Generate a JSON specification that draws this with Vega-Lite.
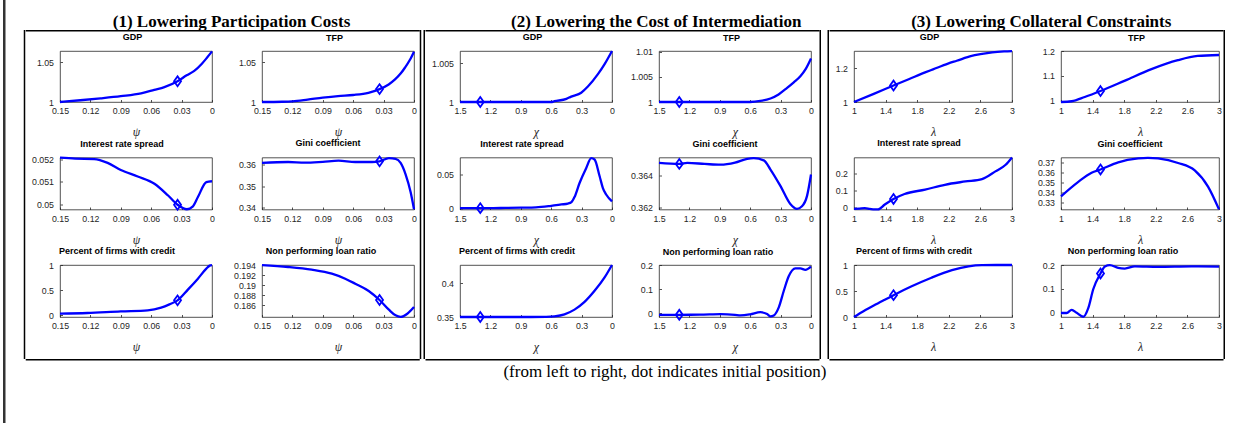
{
"$schema": "https://vega.github.io/schema/vega-lite/v6.json",
"background": "white",
"padding": {"left": 3, "top": 0, "right": 0, "bottom": 0},
"config": {
  "view": {"stroke": "#262626", "strokeWidth": 0.8},
  "axis": {"domain": false, "grid": false, "labelFont": "Liberation Sans", "labelFontSize": 8.8, "labelColor": "#262626", "tickColor": "#262626", "tickSize": -2.5, "tickWidth": 0.8, "labelFlush": false, "labelOverlap": false, "format": "~g", "titleFont": "Liberation Serif", "titleFontSize": 12, "titleFontStyle": "italic", "titleFontWeight": "normal", "titleColor": "#262626", "titlePadding": 11.5, "minExtent": 0},
  "axisX": {"labelPadding": 7, "minExtent": 0},
  "axisY": {"labelPadding": 9, "minExtent": 0},
  "title": {"font": "Liberation Sans", "fontSize": 9, "fontWeight": "bold", "color": "#000", "offset": 4.5, "baseline": "alphabetic", "anchor": "middle"}
},
"datasets": {
  "p1": [
    {"m":"GDP","x":0.15,"y":1.0},{"m":"GDP","x":0.13,"y":1.0022},{"m":"GDP","x":0.11,"y":1.0046},{"m":"GDP","x":0.09,"y":1.0073},{"m":"GDP","x":0.07,"y":1.0108},{"m":"GDP","x":0.057,"y":1.0152},{"m":"GDP","x":0.047,"y":1.0187},{"m":"GDP","x":0.034,"y":1.026,"i":1},{"m":"GDP","x":0.025,"y":1.0335},{"m":"GDP","x":0.0175,"y":1.039},{"m":"GDP","x":0.01,"y":1.048},{"m":"GDP","x":0.005,"y":1.0555},{"m":"GDP","x":0,"y":1.0635},
    {"m":"TFP","x":0.15,"y":1.0},{"m":"TFP","x":0.13,"y":1.0003},{"m":"TFP","x":0.12,"y":1.0008},{"m":"TFP","x":0.105,"y":1.003},{"m":"TFP","x":0.09,"y":1.0055},{"m":"TFP","x":0.075,"y":1.0075},{"m":"TFP","x":0.06,"y":1.0088},{"m":"TFP","x":0.045,"y":1.0115},{"m":"TFP","x":0.034,"y":1.0162,"i":1},{"m":"TFP","x":0.025,"y":1.022},{"m":"TFP","x":0.019,"y":1.028},{"m":"TFP","x":0.013,"y":1.036},{"m":"TFP","x":0.009,"y":1.043},{"m":"TFP","x":0.004,"y":1.053},{"m":"TFP","x":0,"y":1.0632},
    {"m":"IRS","x":0.15,"y":0.05206},{"m":"IRS","x":0.135,"y":0.05202},{"m":"IRS","x":0.1163,"y":0.052},{"m":"IRS","x":0.103,"y":0.05183},{"m":"IRS","x":0.09,"y":0.05152},{"m":"IRS","x":0.0733,"y":0.05123},{"m":"IRS","x":0.0568,"y":0.05091},{"m":"IRS","x":0.0436,"y":0.0504},{"m":"IRS","x":0.034,"y":0.04998,"i":1},{"m":"IRS","x":0.0248,"y":0.04978},{"m":"IRS","x":0.0188,"y":0.04991},{"m":"IRS","x":0.0139,"y":0.05032},{"m":"IRS","x":0.0056,"y":0.05098},{"m":"IRS","x":0,"y":0.05102},
    {"m":"Gini","x":0.15,"y":0.36076},{"m":"Gini","x":0.1242,"y":0.36121},{"m":"Gini","x":0.1076,"y":0.3609},{"m":"Gini","x":0.09,"y":0.3613},{"m":"Gini","x":0.0745,"y":0.3618},{"m":"Gini","x":0.058,"y":0.3612},{"m":"Gini","x":0.0414,"y":0.3612},{"m":"Gini","x":0.034,"y":0.3615,"i":1},{"m":"Gini","x":0.0248,"y":0.363},{"m":"Gini","x":0.0182,"y":0.3627},{"m":"Gini","x":0.0132,"y":0.3608},{"m":"Gini","x":0.0083,"y":0.3555},{"m":"Gini","x":0.0033,"y":0.3471},{"m":"Gini","x":0,"y":0.3392},
    {"m":"PFC","x":0.15,"y":0.027},{"m":"PFC","x":0.123,"y":0.04},{"m":"PFC","x":0.09,"y":0.073},{"m":"PFC","x":0.0634,"y":0.093},{"m":"PFC","x":0.0502,"y":0.147},{"m":"PFC","x":0.042,"y":0.213},{"m":"PFC","x":0.034,"y":0.293,"i":1},{"m":"PFC","x":0.0238,"y":0.507},{"m":"PFC","x":0.0139,"y":0.727},{"m":"PFC","x":0.0056,"y":0.927},{"m":"PFC","x":0.0023,"y":0.987},{"m":"PFC","x":0,"y":0.998},
    {"m":"NPL","x":0.15,"y":0.19405},{"m":"NPL","x":0.1242,"y":0.19367},{"m":"NPL","x":0.101,"y":0.19313},{"m":"NPL","x":0.0811,"y":0.19233},{"m":"NPL","x":0.0679,"y":0.19133},{"m":"NPL","x":0.058,"y":0.19033},{"m":"NPL","x":0.0447,"y":0.18887},{"m":"NPL","x":0.034,"y":0.18707,"i":1},{"m":"NPL","x":0.0248,"y":0.18513},{"m":"NPL","x":0.0182,"y":0.184},{"m":"NPL","x":0.0132,"y":0.1837},{"m":"NPL","x":0.0066,"y":0.18433},{"m":"NPL","x":0,"y":0.18567}
  ],
  "p2": [
    {"m":"GDP","x":1.5,"y":1.0},{"m":"GDP","x":1.3,"y":1.0,"i":1},{"m":"GDP","x":1.0,"y":1.0},{"m":"GDP","x":0.8,"y":1.0},{"m":"GDP","x":0.6,"y":1.0},{"m":"GDP","x":0.568,"y":1.0001},{"m":"GDP","x":0.45,"y":1.0004},{"m":"GDP","x":0.403,"y":1.0007},{"m":"GDP","x":0.304,"y":1.0012},{"m":"GDP","x":0.238,"y":1.002},{"m":"GDP","x":0.139,"y":1.0036},{"m":"GDP","x":0.073,"y":1.0049},{"m":"GDP","x":0,"y":1.0066},
    {"m":"TFP","x":1.5,"y":1.0},{"m":"TFP","x":1.3,"y":1.0,"i":1},{"m":"TFP","x":1.0,"y":1.0},{"m":"TFP","x":0.8,"y":1.0},{"m":"TFP","x":0.6,"y":1.0},{"m":"TFP","x":0.5,"y":1.0002},{"m":"TFP","x":0.4,"y":1.0007},{"m":"TFP","x":0.32,"y":1.0015},{"m":"TFP","x":0.236,"y":1.0028},{"m":"TFP","x":0.17,"y":1.0039},{"m":"TFP","x":0.105,"y":1.0051},{"m":"TFP","x":0.05,"y":1.0066},{"m":"TFP","x":0,"y":1.0086},
    {"m":"IRS","x":1.5,"y":0},{"m":"IRS","x":1.3,"y":0,"i":1},{"m":"IRS","x":1.1,"y":0.0002},{"m":"IRS","x":0.9,"y":0.0007},{"m":"IRS","x":0.75,"y":0.0012},{"m":"IRS","x":0.6,"y":0.0035},{"m":"IRS","x":0.5,"y":0.0055},{"m":"IRS","x":0.436,"y":0.0068},{"m":"IRS","x":0.4,"y":0.009},{"m":"IRS","x":0.37,"y":0.0165},{"m":"IRS","x":0.32,"y":0.0375},{"m":"IRS","x":0.254,"y":0.06},{"m":"IRS","x":0.205,"y":0.0745},{"m":"IRS","x":0.172,"y":0.0725},{"m":"IRS","x":0.122,"y":0.0475},{"m":"IRS","x":0.09,"y":0.03},{"m":"IRS","x":0.056,"y":0.02},{"m":"IRS","x":0,"y":0.01},
    {"m":"Gini","x":1.5,"y":0.36476},{"m":"Gini","x":1.3,"y":0.3647,"i":1},{"m":"Gini","x":1.221,"y":0.36476},{"m":"Gini","x":1.05,"y":0.3647},{"m":"Gini","x":0.893,"y":0.36465},{"m":"Gini","x":0.75,"y":0.36478},{"m":"Gini","x":0.63,"y":0.36502},{"m":"Gini","x":0.565,"y":0.36506},{"m":"Gini","x":0.466,"y":0.36492},{"m":"Gini","x":0.4,"y":0.36435},{"m":"Gini","x":0.302,"y":0.36333},{"m":"Gini","x":0.204,"y":0.3622},{"m":"Gini","x":0.138,"y":0.3619},{"m":"Gini","x":0.089,"y":0.36206},{"m":"Gini","x":0.039,"y":0.36271},{"m":"Gini","x":0,"y":0.36404},
    {"m":"PFC","x":1.5,"y":0.35},{"m":"PFC","x":1.3,"y":0.35,"i":1},{"m":"PFC","x":1.0,"y":0.35},{"m":"PFC","x":0.8,"y":0.35},{"m":"PFC","x":0.65,"y":0.3502},{"m":"PFC","x":0.568,"y":0.351},{"m":"PFC","x":0.469,"y":0.354},{"m":"PFC","x":0.37,"y":0.361},{"m":"PFC","x":0.271,"y":0.3725},{"m":"PFC","x":0.172,"y":0.389},{"m":"PFC","x":0.073,"y":0.409},{"m":"PFC","x":0,"y":0.4275},
    {"m":"NPL","x":1.5,"y":-0.0068},{"m":"NPL","x":1.3,"y":-0.0068,"i":1},{"m":"NPL","x":1.1,"y":-0.0065},{"m":"NPL","x":0.893,"y":-0.004},{"m":"NPL","x":0.75,"y":-0.007},{"m":"NPL","x":0.696,"y":-0.0095},{"m":"NPL","x":0.6,"y":-0.005},{"m":"NPL","x":0.499,"y":0.004},{"m":"NPL","x":0.433,"y":-0.004},{"m":"NPL","x":0.4,"y":-0.0135},{"m":"NPL","x":0.367,"y":-0.0095},{"m":"NPL","x":0.318,"y":0.024},{"m":"NPL","x":0.269,"y":0.092},{"m":"NPL","x":0.22,"y":0.153},{"m":"NPL","x":0.154,"y":0.186},{"m":"NPL","x":0.105,"y":0.186},{"m":"NPL","x":0.056,"y":0.18},{"m":"NPL","x":0,"y":0.193}
  ],
  "p3": [
    {"m":"GDP","x":1,"y":1.0},{"m":"GDP","x":1.25,"y":1.048},{"m":"GDP","x":1.5,"y":1.0968,"i":1},{"m":"GDP","x":1.7,"y":1.1354},{"m":"GDP","x":1.9,"y":1.174},{"m":"GDP","x":2.0,"y":1.192},{"m":"GDP","x":2.19,"y":1.226},{"m":"GDP","x":2.3,"y":1.2425},{"m":"GDP","x":2.49,"y":1.271},{"m":"GDP","x":2.6,"y":1.281},{"m":"GDP","x":2.75,"y":1.292},{"m":"GDP","x":2.9,"y":1.2976},{"m":"GDP","x":3,"y":1.2995},
    {"m":"TFP","x":1,"y":0.995},{"m":"TFP","x":1.135,"y":0.998},{"m":"TFP","x":1.3,"y":1.015},{"m":"TFP","x":1.5,"y":1.039,"i":1},{"m":"TFP","x":1.81,"y":1.081},{"m":"TFP","x":2.145,"y":1.127},{"m":"TFP","x":2.48,"y":1.163},{"m":"TFP","x":2.73,"y":1.18},{"m":"TFP","x":3,"y":1.184},
    {"m":"IRS","x":1,"y":-0.0057},{"m":"IRS","x":1.07,"y":-0.004},{"m":"IRS","x":1.136,"y":-0.002},{"m":"IRS","x":1.2,"y":-0.006},{"m":"IRS","x":1.26,"y":-0.009},{"m":"IRS","x":1.305,"y":-0.009},{"m":"IRS","x":1.39,"y":0.019},{"m":"IRS","x":1.5,"y":0.051,"i":1},{"m":"IRS","x":1.64,"y":0.08},{"m":"IRS","x":1.9,"y":0.105},{"m":"IRS","x":2.15,"y":0.133},{"m":"IRS","x":2.41,"y":0.152},{"m":"IRS","x":2.62,"y":0.166},{"m":"IRS","x":2.79,"y":0.21},{"m":"IRS","x":2.92,"y":0.248},{"m":"IRS","x":3,"y":0.29},
    {"m":"Gini","x":1,"y":0.336},{"m":"Gini","x":1.219,"y":0.3508},{"m":"Gini","x":1.387,"y":0.3601},{"m":"Gini","x":1.5,"y":0.3634,"i":1},{"m":"Gini","x":1.724,"y":0.3707},{"m":"Gini","x":1.977,"y":0.3746},{"m":"Gini","x":2.1,"y":0.3752},{"m":"Gini","x":2.229,"y":0.3746},{"m":"Gini","x":2.482,"y":0.37},{"m":"Gini","x":2.693,"y":0.3624},{"m":"Gini","x":2.861,"y":0.3459},{"m":"Gini","x":3,"y":0.3227},
    {"m":"PFC","x":1,"y":0},{"m":"PFC","x":1.12,"y":0.11},{"m":"PFC","x":1.25,"y":0.22},{"m":"PFC","x":1.38,"y":0.325},{"m":"PFC","x":1.5,"y":0.42,"i":1},{"m":"PFC","x":1.73,"y":0.59},{"m":"PFC","x":1.98,"y":0.755},{"m":"PFC","x":2.24,"y":0.9},{"m":"PFC","x":2.45,"y":0.975},{"m":"PFC","x":2.62,"y":0.998},{"m":"PFC","x":2.8,"y":1.0},{"m":"PFC","x":3,"y":1.0},
    {"m":"NPL","x":1,"y":-0.004},{"m":"NPL","x":1.072,"y":-0.004},{"m":"NPL","x":1.135,"y":0.0097},{"m":"NPL","x":1.198,"y":-0.003},{"m":"NPL","x":1.282,"y":-0.02},{"m":"NPL","x":1.345,"y":0.0167},{"m":"NPL","x":1.408,"y":0.097},{"m":"NPL","x":1.5,"y":0.164,"i":1},{"m":"NPL","x":1.556,"y":0.194},{"m":"NPL","x":1.619,"y":0.1995},{"m":"NPL","x":1.724,"y":0.1875},{"m":"NPL","x":1.808,"y":0.185},{"m":"NPL","x":1.935,"y":0.194},{"m":"NPL","x":2.229,"y":0.192},{"m":"NPL","x":2.65,"y":0.194},{"m":"NPL","x":3,"y":0.193}
  ]
},
"spacing": 17.75,
"center": true,
"hconcat": [
  {"data": {"values": [{}]}, "mark": {"type": "point", "size": 0, "opacity": 0}, "width": 2.5, "height": 423, "view": {"fill": "#333", "stroke": null}},
  {"spacing": 0, "vconcat": [
  {"title": {"text": "(from left to right, dot indicates initial position)", "orient": "bottom", "font": "Liberation Serif", "fontSize": 17, "fontWeight": "normal", "color": "#000", "offset": 3.5, "baseline": "top", "anchor": "middle", "dx": 40.5},
   "bounds": "flush", "spacing": 399.75,
   "hconcat": [
    {"title": {"text": "(1) Lowering Participation Costs", "font": "Liberation Serif", "fontSize": 17, "fontWeight": "bold", "color": "#000", "offset": -13.5, "dx": 9, "anchor": "middle", "baseline": "alphabetic"},
     "bounds": "flush", "spacing": 0,
     "hconcat": [
      {"data": {"values": [{}]}, "mark": {"type": "point", "size": 0, "opacity": 0}, "width": 1.5, "height": 329, "view": {"fill": "#000", "stroke": null}},
      {"bounds": "flush", "spacing": 394, "hconcat": [
      {"spacing": 0, "vconcat": [
        {"data": {"values": [{}]}, "mark": {"type": "point", "size": 0, "opacity": 0}, "width": 394, "height": 1.5, "view": {"fill": "#000", "stroke": null}},
        {"spacing": 5, "vconcat": [
        {"spacing": 4.25, "hconcat": [
        {"data": {"values": [{}]}, "mark": {"type": "point", "size": 0, "opacity": 0}, "width": 1, "height": 1, "view": {"stroke": null}},
        {"bounds": "flush", "columns": 2, "spacing": {"row": 55.5, "column": 50}, "concat": [
          {"width": 152, "height": 51, "title": {"text": "GDP", "dx": -3.5}, "data": {"name": "p1"}, "transform": [{"filter": "datum.m == 'GDP'"}],
           "layer": [
            {"mark": {"type": "line", "color": "#0000ff", "strokeWidth": 2.3, "interpolate": "monotone"},
             "encoding": {"x": {"field": "x", "type": "quantitative", "scale": {"domain": [0, 0.15], "reverse": true, "nice": false, "zero": false}, "axis": {"values": [0, 0.03, 0.06, 0.09, 0.12, 0.15], "title": "ψ"}},
                          "y": {"field": "y", "type": "quantitative", "scale": {"domain": [1, 1.064], "nice": false, "zero": false}, "axis": {"values": [1, 1.05], "title": null}}}},
            {"transform": [{"filter": "datum.i == 1"}], "mark": {"type": "point", "shape": "M0,-1.4L1,0L0,1.4L-1,0Z", "size": 49, "filled": false, "color": "#0000ff", "strokeWidth": 1.8, "opacity": 1},
             "encoding": {"x": {"field": "x", "type": "quantitative", "scale": {"domain": [0, 0.15], "reverse": true, "nice": false, "zero": false}, "axis": null},
                          "y": {"field": "y", "type": "quantitative", "scale": {"domain": [1, 1.064], "nice": false, "zero": false}, "axis": null}}}
           ], "resolve": {"axis": {"x": "independent", "y": "independent"}}},
          {"width": 152, "height": 51, "title": {"text": "TFP", "dx": -3.5}, "data": {"name": "p1"}, "transform": [{"filter": "datum.m == 'TFP'"}],
           "layer": [
            {"mark": {"type": "line", "color": "#0000ff", "strokeWidth": 2.3, "interpolate": "monotone"},
             "encoding": {"x": {"field": "x", "type": "quantitative", "scale": {"domain": [0, 0.15], "reverse": true, "nice": false, "zero": false}, "axis": {"values": [0, 0.03, 0.06, 0.09, 0.12, 0.15], "title": "ψ"}},
                          "y": {"field": "y", "type": "quantitative", "scale": {"domain": [1, 1.064], "nice": false, "zero": false}, "axis": {"values": [1, 1.05], "title": null}}}},
            {"transform": [{"filter": "datum.i == 1"}], "mark": {"type": "point", "shape": "M0,-1.4L1,0L0,1.4L-1,0Z", "size": 49, "filled": false, "color": "#0000ff", "strokeWidth": 1.8, "opacity": 1},
             "encoding": {"x": {"field": "x", "type": "quantitative", "scale": {"domain": [0, 0.15], "reverse": true, "nice": false, "zero": false}, "axis": null},
                          "y": {"field": "y", "type": "quantitative", "scale": {"domain": [1, 1.064], "nice": false, "zero": false}, "axis": null}}}
           ], "resolve": {"axis": {"x": "independent", "y": "independent"}}},
          {"width": 152, "height": 52, "title": {"text": "Interest rate spread", "dx": -14}, "data": {"name": "p1"}, "transform": [{"filter": "datum.m == 'IRS'"}],
           "layer": [
            {"mark": {"type": "line", "color": "#0000ff", "strokeWidth": 2.3, "interpolate": "monotone"},
             "encoding": {"x": {"field": "x", "type": "quantitative", "scale": {"domain": [0, 0.15], "reverse": true, "nice": false, "zero": false}, "axis": {"values": [0, 0.03, 0.06, 0.09, 0.12, 0.15], "title": "ψ"}},
                          "y": {"field": "y", "type": "quantitative", "scale": {"domain": [0.04977, 0.05207], "nice": false, "zero": false}, "axis": {"values": [0.05, 0.051, 0.052], "title": null}}}},
            {"transform": [{"filter": "datum.i == 1"}], "mark": {"type": "point", "shape": "M0,-1.4L1,0L0,1.4L-1,0Z", "size": 49, "filled": false, "color": "#0000ff", "strokeWidth": 1.8, "opacity": 1},
             "encoding": {"x": {"field": "x", "type": "quantitative", "scale": {"domain": [0, 0.15], "reverse": true, "nice": false, "zero": false}, "axis": null},
                          "y": {"field": "y", "type": "quantitative", "scale": {"domain": [0.04977, 0.05207], "nice": false, "zero": false}, "axis": null}}}
           ], "resolve": {"axis": {"x": "independent", "y": "independent"}}},
          {"width": 152, "height": 52, "title": {"text": "Gini coefficient", "dx": -10}, "data": {"name": "p1"}, "transform": [{"filter": "datum.m == 'Gini'"}],
           "layer": [
            {"mark": {"type": "line", "color": "#0000ff", "strokeWidth": 2.3, "interpolate": "monotone"},
             "encoding": {"x": {"field": "x", "type": "quantitative", "scale": {"domain": [0, 0.15], "reverse": true, "nice": false, "zero": false}, "axis": {"values": [0, 0.03, 0.06, 0.09, 0.12, 0.15], "title": "ψ"}},
                          "y": {"field": "y", "type": "quantitative", "scale": {"domain": [0.3391, 0.3633], "nice": false, "zero": false}, "axis": {"values": [0.34, 0.35, 0.36], "title": null}}}},
            {"transform": [{"filter": "datum.i == 1"}], "mark": {"type": "point", "shape": "M0,-1.4L1,0L0,1.4L-1,0Z", "size": 49, "filled": false, "color": "#0000ff", "strokeWidth": 1.8, "opacity": 1},
             "encoding": {"x": {"field": "x", "type": "quantitative", "scale": {"domain": [0, 0.15], "reverse": true, "nice": false, "zero": false}, "axis": null},
                          "y": {"field": "y", "type": "quantitative", "scale": {"domain": [0.3391, 0.3633], "nice": false, "zero": false}, "axis": null}}}
           ], "resolve": {"axis": {"x": "independent", "y": "independent"}}},
          {"width": 152, "height": 52, "title": {"text": "Percent of firms with credit", "dx": -19}, "data": {"name": "p1"}, "transform": [{"filter": "datum.m == 'PFC'"}],
           "layer": [
            {"mark": {"type": "line", "color": "#0000ff", "strokeWidth": 2.3, "interpolate": "monotone"},
             "encoding": {"x": {"field": "x", "type": "quantitative", "scale": {"domain": [0, 0.15], "reverse": true, "nice": false, "zero": false}, "axis": {"values": [0, 0.03, 0.06, 0.09, 0.12, 0.15], "title": "ψ"}},
                          "y": {"field": "y", "type": "quantitative", "scale": {"domain": [-0.04, 1], "nice": false, "zero": false}, "axis": {"values": [0, 0.5, 1], "title": null}}}},
            {"transform": [{"filter": "datum.i == 1"}], "mark": {"type": "point", "shape": "M0,-1.4L1,0L0,1.4L-1,0Z", "size": 49, "filled": false, "color": "#0000ff", "strokeWidth": 1.8, "opacity": 1},
             "encoding": {"x": {"field": "x", "type": "quantitative", "scale": {"domain": [0, 0.15], "reverse": true, "nice": false, "zero": false}, "axis": null},
                          "y": {"field": "y", "type": "quantitative", "scale": {"domain": [-0.04, 1], "nice": false, "zero": false}, "axis": null}}}
           ], "resolve": {"axis": {"x": "independent", "y": "independent"}}},
          {"width": 152, "height": 52, "title": {"text": "Non performing loan ratio", "dx": -17}, "data": {"name": "p1"}, "transform": [{"filter": "datum.m == 'NPL'"}],
           "layer": [
            {"mark": {"type": "line", "color": "#0000ff", "strokeWidth": 2.3, "interpolate": "monotone"},
             "encoding": {"x": {"field": "x", "type": "quantitative", "scale": {"domain": [0, 0.15], "reverse": true, "nice": false, "zero": false}, "axis": {"values": [0, 0.03, 0.06, 0.09, 0.12, 0.15], "title": "ψ"}},
                          "y": {"field": "y", "type": "quantitative", "scale": {"domain": [0.18367, 0.19407], "nice": false, "zero": false}, "axis": {"values": [0.186, 0.188, 0.19, 0.192, 0.194], "title": null}}}},
            {"transform": [{"filter": "datum.i == 1"}], "mark": {"type": "point", "shape": "M0,-1.4L1,0L0,1.4L-1,0Z", "size": 49, "filled": false, "color": "#0000ff", "strokeWidth": 1.8, "opacity": 1},
             "encoding": {"x": {"field": "x", "type": "quantitative", "scale": {"domain": [0, 0.15], "reverse": true, "nice": false, "zero": false}, "axis": null},
                          "y": {"field": "y", "type": "quantitative", "scale": {"domain": [0.18367, 0.19407], "nice": false, "zero": false}, "axis": null}}}
           ], "resolve": {"axis": {"x": "independent", "y": "independent"}}}
        ]}
        ]},
        {"data": {"values": [{}]}, "mark": {"type": "point", "size": 0, "opacity": 0}, "width": 394, "height": 1.5, "view": {"fill": "#000", "stroke": null}}
        ]}
      ]},
      {"data": {"values": [{}]}, "mark": {"type": "point", "size": 0, "opacity": 0}, "width": 1.5, "height": 329, "view": {"fill": "#000", "stroke": null}}
      ]}
     ]},
    {"bounds": "flush", "spacing": 404, "hconcat": [
      {"title": {"text": "(2) Lowering the Cost of Intermediation", "font": "Liberation Serif", "fontSize": 17, "fontWeight": "bold", "color": "#000", "offset": -13.5, "dx": 34, "anchor": "middle", "baseline": "alphabetic"},
       "bounds": "flush", "spacing": 0,
       "hconcat": [
        {"data": {"values": [{}]}, "mark": {"type": "point", "size": 0, "opacity": 0}, "width": 1.5, "height": 329, "view": {"fill": "#000", "stroke": null}},
        {"bounds": "flush", "spacing": 394, "hconcat": [
        {"spacing": 0, "vconcat": [
          {"data": {"values": [{}]}, "mark": {"type": "point", "size": 0, "opacity": 0}, "width": 394, "height": 1.5, "view": {"fill": "#000", "stroke": null}},
          {"spacing": 5, "vconcat": [
          {"spacing": 4.5, "hconcat": [
          {"data": {"values": [{}]}, "mark": {"type": "point", "size": 0, "opacity": 0}, "width": 1, "height": 1, "view": {"stroke": null}},
          {"bounds": "flush", "columns": 2, "spacing": {"row": 55.5, "column": 47}, "concat": [
            {"width": 152, "height": 51, "title": {"text": "GDP", "dx": -3.5}, "data": {"name": "p2"}, "transform": [{"filter": "datum.m == 'GDP'"}],
             "layer": [
              {"mark": {"type": "line", "color": "#0000ff", "strokeWidth": 2.3, "interpolate": "monotone"},
               "encoding": {"x": {"field": "x", "type": "quantitative", "scale": {"domain": [0, 1.5], "reverse": true, "nice": false, "zero": false}, "axis": {"values": [0, 0.3, 0.6, 0.9, 1.2, 1.5], "title": "χ"}},
                            "y": {"field": "y", "type": "quantitative", "scale": {"domain": [1, 1.0066], "nice": false, "zero": false}, "axis": {"values": [1, 1.005], "title": null}}}},
              {"transform": [{"filter": "datum.i == 1"}], "mark": {"type": "point", "shape": "M0,-1.4L1,0L0,1.4L-1,0Z", "size": 49, "filled": false, "color": "#0000ff", "strokeWidth": 1.8, "opacity": 1},
               "encoding": {"x": {"field": "x", "type": "quantitative", "scale": {"domain": [0, 1.5], "reverse": true, "nice": false, "zero": false}, "axis": null},
                            "y": {"field": "y", "type": "quantitative", "scale": {"domain": [1, 1.0066], "nice": false, "zero": false}, "axis": null}}}
             ], "resolve": {"axis": {"x": "independent", "y": "independent"}}},
            {"width": 152, "height": 51, "title": {"text": "TFP", "dx": -3.5}, "data": {"name": "p2"}, "transform": [{"filter": "datum.m == 'TFP'"}],
             "layer": [
              {"mark": {"type": "line", "color": "#0000ff", "strokeWidth": 2.3, "interpolate": "monotone"},
               "encoding": {"x": {"field": "x", "type": "quantitative", "scale": {"domain": [0, 1.5], "reverse": true, "nice": false, "zero": false}, "axis": {"values": [0, 0.3, 0.6, 0.9, 1.2, 1.5], "title": "χ"}},
                            "y": {"field": "y", "type": "quantitative", "scale": {"domain": [1, 1.0101], "nice": false, "zero": false}, "axis": {"values": [1, 1.005, 1.01], "title": null}}}},
              {"transform": [{"filter": "datum.i == 1"}], "mark": {"type": "point", "shape": "M0,-1.4L1,0L0,1.4L-1,0Z", "size": 49, "filled": false, "color": "#0000ff", "strokeWidth": 1.8, "opacity": 1},
               "encoding": {"x": {"field": "x", "type": "quantitative", "scale": {"domain": [0, 1.5], "reverse": true, "nice": false, "zero": false}, "axis": null},
                            "y": {"field": "y", "type": "quantitative", "scale": {"domain": [1, 1.0101], "nice": false, "zero": false}, "axis": null}}}
             ], "resolve": {"axis": {"x": "independent", "y": "independent"}}},
            {"width": 152, "height": 52, "title": {"text": "Interest rate spread", "dx": -14}, "data": {"name": "p2"}, "transform": [{"filter": "datum.m == 'IRS'"}],
             "layer": [
              {"mark": {"type": "line", "color": "#0000ff", "strokeWidth": 2.3, "interpolate": "monotone"},
               "encoding": {"x": {"field": "x", "type": "quantitative", "scale": {"domain": [0, 1.5], "reverse": true, "nice": false, "zero": false}, "axis": {"values": [0, 0.3, 0.6, 0.9, 1.2, 1.5], "title": "χ"}},
                            "y": {"field": "y", "type": "quantitative", "scale": {"domain": [-0.002, 0.0755], "nice": false, "zero": false}, "axis": {"values": [0, 0.05], "title": null}}}},
              {"transform": [{"filter": "datum.i == 1"}], "mark": {"type": "point", "shape": "M0,-1.4L1,0L0,1.4L-1,0Z", "size": 49, "filled": false, "color": "#0000ff", "strokeWidth": 1.8, "opacity": 1},
               "encoding": {"x": {"field": "x", "type": "quantitative", "scale": {"domain": [0, 1.5], "reverse": true, "nice": false, "zero": false}, "axis": null},
                            "y": {"field": "y", "type": "quantitative", "scale": {"domain": [-0.002, 0.0755], "nice": false, "zero": false}, "axis": null}}}
             ], "resolve": {"axis": {"x": "independent", "y": "independent"}}},
            {"width": 152, "height": 52, "title": {"text": "Gini coefficient", "dx": -10}, "data": {"name": "p2"}, "transform": [{"filter": "datum.m == 'Gini'"}],
             "layer": [
              {"mark": {"type": "line", "color": "#0000ff", "strokeWidth": 2.3, "interpolate": "monotone"},
               "encoding": {"x": {"field": "x", "type": "quantitative", "scale": {"domain": [0, 1.5], "reverse": true, "nice": false, "zero": false}, "axis": {"values": [0, 0.3, 0.6, 0.9, 1.2, 1.5], "title": "χ"}},
                            "y": {"field": "y", "type": "quantitative", "scale": {"domain": [0.36186, 0.3651], "nice": false, "zero": false}, "axis": {"values": [0.362, 0.364], "title": null}}}},
              {"transform": [{"filter": "datum.i == 1"}], "mark": {"type": "point", "shape": "M0,-1.4L1,0L0,1.4L-1,0Z", "size": 49, "filled": false, "color": "#0000ff", "strokeWidth": 1.8, "opacity": 1},
               "encoding": {"x": {"field": "x", "type": "quantitative", "scale": {"domain": [0, 1.5], "reverse": true, "nice": false, "zero": false}, "axis": null},
                            "y": {"field": "y", "type": "quantitative", "scale": {"domain": [0.36186, 0.3651], "nice": false, "zero": false}, "axis": null}}}
             ], "resolve": {"axis": {"x": "independent", "y": "independent"}}},
            {"width": 152, "height": 52, "title": {"text": "Percent of firms with credit", "dx": -19}, "data": {"name": "p2"}, "transform": [{"filter": "datum.m == 'PFC'"}],
             "layer": [
              {"mark": {"type": "line", "color": "#0000ff", "strokeWidth": 2.3, "interpolate": "monotone"},
               "encoding": {"x": {"field": "x", "type": "quantitative", "scale": {"domain": [0, 1.5], "reverse": true, "nice": false, "zero": false}, "axis": {"values": [0, 0.3, 0.6, 0.9, 1.2, 1.5], "title": "χ"}},
                            "y": {"field": "y", "type": "quantitative", "scale": {"domain": [0.35, 0.4275], "nice": false, "zero": false}, "axis": {"values": [0.35, 0.4], "title": null}}}},
              {"transform": [{"filter": "datum.i == 1"}], "mark": {"type": "point", "shape": "M0,-1.4L1,0L0,1.4L-1,0Z", "size": 49, "filled": false, "color": "#0000ff", "strokeWidth": 1.8, "opacity": 1},
               "encoding": {"x": {"field": "x", "type": "quantitative", "scale": {"domain": [0, 1.5], "reverse": true, "nice": false, "zero": false}, "axis": null},
                            "y": {"field": "y", "type": "quantitative", "scale": {"domain": [0.35, 0.4275], "nice": false, "zero": false}, "axis": null}}}
             ], "resolve": {"axis": {"x": "independent", "y": "independent"}}},
            {"width": 152, "height": 52, "title": {"text": "Non performing loan ratio", "dx": -17}, "data": {"name": "p2"}, "transform": [{"filter": "datum.m == 'NPL'"}],
             "layer": [
              {"mark": {"type": "line", "color": "#0000ff", "strokeWidth": 2.3, "interpolate": "monotone"},
               "encoding": {"x": {"field": "x", "type": "quantitative", "scale": {"domain": [0, 1.5], "reverse": true, "nice": false, "zero": false}, "axis": {"values": [0, 0.3, 0.6, 0.9, 1.2, 1.5], "title": "χ"}},
                            "y": {"field": "y", "type": "quantitative", "scale": {"domain": [-0.016, 0.2], "nice": false, "zero": false}, "axis": {"values": [0, 0.1, 0.2], "title": null}}}},
              {"transform": [{"filter": "datum.i == 1"}], "mark": {"type": "point", "shape": "M0,-1.4L1,0L0,1.4L-1,0Z", "size": 49, "filled": false, "color": "#0000ff", "strokeWidth": 1.8, "opacity": 1},
               "encoding": {"x": {"field": "x", "type": "quantitative", "scale": {"domain": [0, 1.5], "reverse": true, "nice": false, "zero": false}, "axis": null},
                            "y": {"field": "y", "type": "quantitative", "scale": {"domain": [-0.016, 0.2], "nice": false, "zero": false}, "axis": null}}}
             ], "resolve": {"axis": {"x": "independent", "y": "independent"}}}
          ]}
          ]},
          {"data": {"values": [{}]}, "mark": {"type": "point", "size": 0, "opacity": 0}, "width": 394, "height": 1.5, "view": {"fill": "#000", "stroke": null}}
          ]}
        ]},
        {"data": {"values": [{}]}, "mark": {"type": "point", "size": 0, "opacity": 0}, "width": 1.5, "height": 329, "view": {"fill": "#000", "stroke": null}}
        ]}
       ]},
      {"title": {"text": "(3) Lowering Collateral Constraints", "font": "Liberation Serif", "fontSize": 17, "fontWeight": "bold", "color": "#000", "offset": -13.5, "dx": 15, "anchor": "middle", "baseline": "alphabetic"},
       "bounds": "flush", "spacing": 0,
       "hconcat": [
        {"data": {"values": [{}]}, "mark": {"type": "point", "size": 0, "opacity": 0}, "width": 1.5, "height": 329, "view": {"fill": "#000", "stroke": null}},
        {"bounds": "flush", "spacing": 394, "hconcat": [
        {"spacing": 0, "vconcat": [
          {"data": {"values": [{}]}, "mark": {"type": "point", "size": 0, "opacity": 0}, "width": 394, "height": 1.5, "view": {"fill": "#000", "stroke": null}},
          {"spacing": 5, "vconcat": [
          {"spacing": 3.5, "hconcat": [
          {"data": {"values": [{}]}, "mark": {"type": "point", "size": 0, "opacity": 0}, "width": 1, "height": 1, "view": {"stroke": null}},
          {"bounds": "flush", "columns": 2, "spacing": {"row": 55.5, "column": 49}, "concat": [
            {"width": 158, "height": 51, "title": {"text": "GDP", "dx": -3.5}, "data": {"name": "p3"}, "transform": [{"filter": "datum.m == 'GDP'"}],
             "layer": [
              {"mark": {"type": "line", "color": "#0000ff", "strokeWidth": 2.3, "interpolate": "monotone"},
               "encoding": {"x": {"field": "x", "type": "quantitative", "scale": {"domain": [1, 3], "nice": false, "zero": false}, "axis": {"values": [1, 1.4, 1.8, 2.2, 2.6, 3], "title": "λ"}},
                            "y": {"field": "y", "type": "quantitative", "scale": {"domain": [1, 1.3], "nice": false, "zero": false}, "axis": {"values": [1, 1.2], "title": null}}}},
              {"transform": [{"filter": "datum.i == 1"}], "mark": {"type": "point", "shape": "M0,-1.4L1,0L0,1.4L-1,0Z", "size": 49, "filled": false, "color": "#0000ff", "strokeWidth": 1.8, "opacity": 1},
               "encoding": {"x": {"field": "x", "type": "quantitative", "scale": {"domain": [1, 3], "nice": false, "zero": false}, "axis": null},
                            "y": {"field": "y", "type": "quantitative", "scale": {"domain": [1, 1.3], "nice": false, "zero": false}, "axis": null}}}
             ], "resolve": {"axis": {"x": "independent", "y": "independent"}}},
            {"width": 158, "height": 51, "title": {"text": "TFP", "dx": -3.5}, "data": {"name": "p3"}, "transform": [{"filter": "datum.m == 'TFP'"}],
             "layer": [
              {"mark": {"type": "line", "color": "#0000ff", "strokeWidth": 2.3, "interpolate": "monotone"},
               "encoding": {"x": {"field": "x", "type": "quantitative", "scale": {"domain": [1, 3], "nice": false, "zero": false}, "axis": {"values": [1, 1.4, 1.8, 2.2, 2.6, 3], "title": "λ"}},
                            "y": {"field": "y", "type": "quantitative", "scale": {"domain": [0.995, 1.2], "nice": false, "zero": false}, "axis": {"values": [1, 1.1, 1.2], "title": null}}}},
              {"transform": [{"filter": "datum.i == 1"}], "mark": {"type": "point", "shape": "M0,-1.4L1,0L0,1.4L-1,0Z", "size": 49, "filled": false, "color": "#0000ff", "strokeWidth": 1.8, "opacity": 1},
               "encoding": {"x": {"field": "x", "type": "quantitative", "scale": {"domain": [1, 3], "nice": false, "zero": false}, "axis": null},
                            "y": {"field": "y", "type": "quantitative", "scale": {"domain": [0.995, 1.2], "nice": false, "zero": false}, "axis": null}}}
             ], "resolve": {"axis": {"x": "independent", "y": "independent"}}},
            {"width": 158, "height": 52, "title": {"text": "Interest rate spread", "dx": -14}, "data": {"name": "p3"}, "transform": [{"filter": "datum.m == 'IRS'"}],
             "layer": [
              {"mark": {"type": "line", "color": "#0000ff", "strokeWidth": 2.3, "interpolate": "monotone"},
               "encoding": {"x": {"field": "x", "type": "quantitative", "scale": {"domain": [1, 3], "nice": false, "zero": false}, "axis": {"values": [1, 1.4, 1.8, 2.2, 2.6, 3], "title": "λ"}},
                            "y": {"field": "y", "type": "quantitative", "scale": {"domain": [-0.0095, 0.29], "nice": false, "zero": false}, "axis": {"values": [0, 0.1, 0.2], "title": null}}}},
              {"transform": [{"filter": "datum.i == 1"}], "mark": {"type": "point", "shape": "M0,-1.4L1,0L0,1.4L-1,0Z", "size": 49, "filled": false, "color": "#0000ff", "strokeWidth": 1.8, "opacity": 1},
               "encoding": {"x": {"field": "x", "type": "quantitative", "scale": {"domain": [1, 3], "nice": false, "zero": false}, "axis": null},
                            "y": {"field": "y", "type": "quantitative", "scale": {"domain": [-0.0095, 0.29], "nice": false, "zero": false}, "axis": null}}}
             ], "resolve": {"axis": {"x": "independent", "y": "independent"}}},
            {"width": 158, "height": 52, "title": {"text": "Gini coefficient", "dx": -10}, "data": {"name": "p3"}, "transform": [{"filter": "datum.m == 'Gini'"}],
             "layer": [
              {"mark": {"type": "line", "color": "#0000ff", "strokeWidth": 2.3, "interpolate": "monotone"},
               "encoding": {"x": {"field": "x", "type": "quantitative", "scale": {"domain": [1, 3], "nice": false, "zero": false}, "axis": {"values": [1, 1.4, 1.8, 2.2, 2.6, 3], "title": "λ"}},
                            "y": {"field": "y", "type": "quantitative", "scale": {"domain": [0.3226, 0.3756], "nice": false, "zero": false}, "axis": {"values": [0.33, 0.34, 0.35, 0.36, 0.37], "title": null}}}},
              {"transform": [{"filter": "datum.i == 1"}], "mark": {"type": "point", "shape": "M0,-1.4L1,0L0,1.4L-1,0Z", "size": 49, "filled": false, "color": "#0000ff", "strokeWidth": 1.8, "opacity": 1},
               "encoding": {"x": {"field": "x", "type": "quantitative", "scale": {"domain": [1, 3], "nice": false, "zero": false}, "axis": null},
                            "y": {"field": "y", "type": "quantitative", "scale": {"domain": [0.3226, 0.3756], "nice": false, "zero": false}, "axis": null}}}
             ], "resolve": {"axis": {"x": "independent", "y": "independent"}}},
            {"width": 158, "height": 52, "title": {"text": "Percent of firms with credit", "dx": -19}, "data": {"name": "p3"}, "transform": [{"filter": "datum.m == 'PFC'"}],
             "layer": [
              {"mark": {"type": "line", "color": "#0000ff", "strokeWidth": 2.3, "interpolate": "monotone"},
               "encoding": {"x": {"field": "x", "type": "quantitative", "scale": {"domain": [1, 3], "nice": false, "zero": false}, "axis": {"values": [1, 1.4, 1.8, 2.2, 2.6, 3], "title": "λ"}},
                            "y": {"field": "y", "type": "quantitative", "scale": {"domain": [0, 1], "nice": false, "zero": false}, "axis": {"values": [0, 0.5, 1], "title": null}}}},
              {"transform": [{"filter": "datum.i == 1"}], "mark": {"type": "point", "shape": "M0,-1.4L1,0L0,1.4L-1,0Z", "size": 49, "filled": false, "color": "#0000ff", "strokeWidth": 1.8, "opacity": 1},
               "encoding": {"x": {"field": "x", "type": "quantitative", "scale": {"domain": [1, 3], "nice": false, "zero": false}, "axis": null},
                            "y": {"field": "y", "type": "quantitative", "scale": {"domain": [0, 1], "nice": false, "zero": false}, "axis": null}}}
             ], "resolve": {"axis": {"x": "independent", "y": "independent"}}},
            {"width": 158, "height": 52, "title": {"text": "Non performing loan ratio", "dx": -17}, "data": {"name": "p3"}, "transform": [{"filter": "datum.m == 'NPL'"}],
             "layer": [
              {"mark": {"type": "line", "color": "#0000ff", "strokeWidth": 2.3, "interpolate": "monotone"},
               "encoding": {"x": {"field": "x", "type": "quantitative", "scale": {"domain": [1, 3], "nice": false, "zero": false}, "axis": {"values": [1, 1.4, 1.8, 2.2, 2.6, 3], "title": "λ"}},
                            "y": {"field": "y", "type": "quantitative", "scale": {"domain": [-0.021, 0.2], "nice": false, "zero": false}, "axis": {"values": [0, 0.1, 0.2], "title": null}}}},
              {"transform": [{"filter": "datum.i == 1"}], "mark": {"type": "point", "shape": "M0,-1.4L1,0L0,1.4L-1,0Z", "size": 49, "filled": false, "color": "#0000ff", "strokeWidth": 1.8, "opacity": 1},
               "encoding": {"x": {"field": "x", "type": "quantitative", "scale": {"domain": [1, 3], "nice": false, "zero": false}, "axis": null},
                            "y": {"field": "y", "type": "quantitative", "scale": {"domain": [-0.021, 0.2], "nice": false, "zero": false}, "axis": null}}}
             ], "resolve": {"axis": {"x": "independent", "y": "independent"}}}
          ]}
          ]},
          {"data": {"values": [{}]}, "mark": {"type": "point", "size": 0, "opacity": 0}, "width": 394, "height": 1.5, "view": {"fill": "#000", "stroke": null}}
          ]}
        ]},
        {"data": {"values": [{}]}, "mark": {"type": "point", "size": 0, "opacity": 0}, "width": 1.5, "height": 329, "view": {"fill": "#000", "stroke": null}}
        ]}
       ]}
    ]}
   ]},
   {"data": {"values": [{}]}, "mark": {"type": "point", "size": 0, "opacity": 0}, "width": 1, "height": 13, "view": {"stroke": null}}
  ]}
]
}
